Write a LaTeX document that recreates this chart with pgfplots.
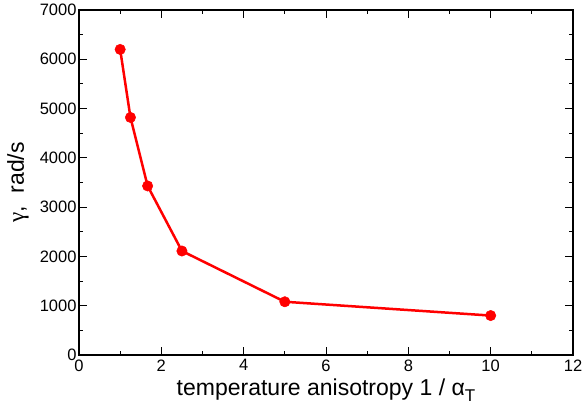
\documentclass[border=0pt]{standalone}
\usepackage{fontspec}
\setmainfont{Liberation Sans}
\newfontfamily\greekserif{Liberation Serif}
\usepackage{pgfplots}
\pgfplotsset{compat=1.18}
\begin{document}
\begin{tikzpicture}
\begin{axis}[
  scale only axis,
  width=494pt, height=345pt,
  xmin=0, xmax=12, ymin=0, ymax=7000,
  xtick={0,2,...,12}, ytick={0,1000,...,7000},
  minor x tick num=1, minor y tick num=1,
  tick align=inside,
  major tick length=8pt, minor tick length=4pt,
  tick style={black, line width=1pt},
  axis line style={line width=1.2pt},
  ticklabel style={font=\fontsize{16.5}{16.5}\selectfont},
  xticklabel style={yshift=-1pt},
  yticklabel style={xshift=1pt},
  /pgf/number format/assume math mode=true,
  scaled y ticks=false,
  yticklabel style={/pgf/number format/1000 sep={}},
  xlabel={temperature anisotropy 1 / α\raisebox{-0.45ex}{\fontsize{17}{17}\selectfont T}},
  ylabel={{\greekserif γ},\ \ rad/s},
  label style={font=\fontsize{23}{23}\selectfont},
  xlabel style={yshift=-1pt},
  ylabel style={yshift=4pt},
]
\addplot[red, line width=2.5pt, mark=*, mark size=5.2pt, mark options={fill=red, draw=red, line width=0.5pt}]
coordinates {(1,6200) (1.25,4820) (1.667,3430) (2.5,2110) (5,1080) (10,800)};
\end{axis}
\pgfresetboundingbox
\path[use as bounding box] ([shift={(-79pt,-57pt)}]current axis.south west) rectangle ([shift={(9pt,10pt)}]current axis.north east);
\end{tikzpicture}
\end{document}
